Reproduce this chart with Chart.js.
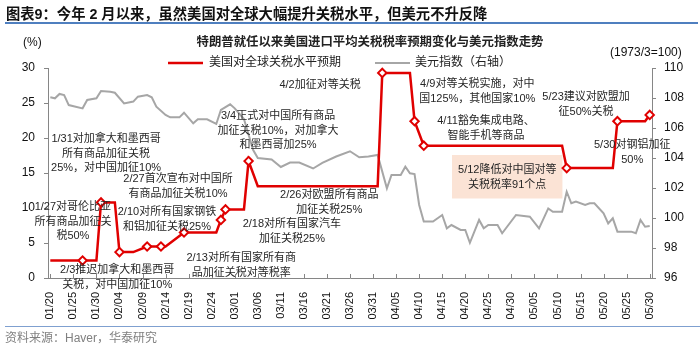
<!DOCTYPE html>
<html><head><meta charset="utf-8">
<script src="https://cdn.jsdelivr.net/npm/chart.js@4"></script>
<style>
html,body{margin:0;padding:0;background:#fff;width:700px;height:349px;overflow:hidden;position:relative;font-family:"Liberation Sans","Noto Sans CJK SC",sans-serif;}
#c{position:absolute;left:0;top:0;}
.t{position:absolute;white-space:nowrap;line-height:1;}
#title{left:6px;top:7px;font-size:14.3px;font-weight:bold;color:#111;}
#tline{position:absolute;left:5px;top:22px;width:693px;height:2px;background:#4f7fbf;}
#sub{left:370px;top:36px;transform:translateX(-50%);font-size:12.4px;font-weight:bold;color:#222;}
#pct{left:23px;top:36px;font-size:12px;color:#111;}
#idx{left:610px;top:46px;font-size:12px;color:#111;}
#bline{position:absolute;left:5px;top:326px;width:695px;height:1px;background:#7fa0d0;}
#src{left:5px;top:332px;font-size:12px;color:#808080;}
</style></head>
<body>
<canvas id="c" width="700" height="349"></canvas>
<div class="t" id="title">图表9：今年 2 月以来，虽然美国对全球大幅提升关税水平，但美元不升反降</div>
<div id="tline"></div>
<div class="t" id="sub">特朗普就任以来美国进口平均关税税率预期变化与美元指数走势</div>
<div class="t" id="pct">(%)</div>
<div class="t" id="idx">(1973/3=100)</div>
<div id="bline"></div>
<div class="t" id="src">资料来源：Haver，华泰研究</div>
<script>
const dates = [
'01/20','01/21','01/22','01/23','01/24','01/25','01/26','01/27','01/28','01/29','01/30','01/31',
'02/01','02/02','02/03','02/04','02/05','02/06','02/07','02/08','02/09','02/10','02/11','02/12','02/13','02/14','02/15','02/16','02/17','02/18','02/19','02/20','02/21','02/22','02/23','02/24','02/25','02/26','02/27','02/28',
'03/01','03/02','03/03','03/04','03/05','03/06','03/07','03/08','03/09','03/10','03/11','03/12','03/13','03/14','03/15','03/16','03/17','03/18','03/19','03/20','03/21','03/22','03/23','03/24','03/25','03/26','03/27','03/28','03/29','03/30','03/31',
'04/01','04/02','04/03','04/04','04/05','04/06','04/07','04/08','04/09','04/10','04/11','04/12','04/13','04/14','04/15','04/16','04/17','04/18','04/19','04/20','04/21','04/22','04/23','04/24','04/25','04/26','04/27','04/28','04/29','04/30',
'05/01','05/02','05/03','05/04','05/05','05/06','05/07','05/08','05/09','05/10','05/11','05/12','05/13','05/14','05/15','05/16','05/17','05/18','05/19','05/20','05/21','05/22','05/23','05/24','05/25','05/26','05/27','05/28','05/29','05/30'
];

// 美国对全球关税水平预期 (%), left axis
const tariff = [
2.5,2.5,2.5,2.5,2.5,2.5,2.5,2.5,2.5,2.5,2.5,
10.8,10.8,10.8,10.8,
3.7,3.7,3.7,3.7,
null,null,
4.5,4.5,4.5,4.5,4.5,
null,null,null,
6.5,6.5,6.5,6.5,6.5,6.5,6.5,6.5,
8.3,
9.8,9.8,9.8,9.8,9.8,
16.7,
null,
13.1,13.1,13.1,13.1,13.1,13.1,13.1,13.1,13.1,13.1,13.1,13.1,13.1,13.1,13.1,13.1,13.1,13.1,13.1,13.1,13.1,13.1,13.1,13.1,13.1,13.1,13.1,
29.3,29.3,29.3,29.3,29.3,29.3,29.3,
22.4,
null,
18.9,18.9,18.9,18.9,18.9,18.9,18.9,18.9,18.9,18.9,18.9,18.9,18.9,18.9,18.9,18.9,18.9,18.9,18.9,18.9,18.9,18.9,18.9,18.9,18.9,18.9,18.9,18.9,18.9,18.9,18.9,
15.7,15.7,15.7,15.7,15.7,15.7,15.7,15.7,15.7,15.7,15.7,
22.4,22.4,22.4,22.4,22.4,22.4,22.4,
23.3
];

// 美元指数 (1973/3=100), right axis
const dxy = [
108.05,107.98,108.27,108.2,107.53,null,null,107.31,107.87,null,
107.98,108.47,null,108.42,108.35,null,107.64,null,107.76,108.09,
null,108.2,108.05,107.42,null,106.87,106.71,null,106.71,107.02,
null,106.31,106.58,null,106.58,null,106.27,107.2,null,107.58,
107.31,null,106.6,null,104.53,104.0,null,null,103.9,null,
103.4,null,103.7,null,103.7,null,null,103.3,null,103.67,
null,null,104.1,null,null,104.45,null,104.05,null,104.1,
null,104.2,null,101.98,102.87,null,102.87,103.42,102.98,102.93,
100.87,99.76,null,99.76,null,100.2,99.31,99.53,null,99.2,
99.2,98.35,null,99.87,99.31,99.53,null,99.53,98.98,null,
null,100.2,null,null,100.09,null,99.31,null,100.64,100.42,
null,100.42,101.75,100.98,101.09,null,100.87,100.98,100.98,null,
100.31,99.64,99.98,99.09,null,null,99.09,98.98,99.87,99.42,
99.47
];

const markerDates = ['01/27','01/31','02/04','02/10','02/13','02/18','02/26','02/27','03/04','04/02','04/09','04/11','05/12','05/23','05/30'];

const seriesNames = ['美国对全球关税水平预期','美元指数（右轴）'];

const notes = [
 {idx:12.1, val:19.86, lines:['1/31对加拿大和墨西哥','所有商品加征关税','25%，对中国加征10%']},
 {idx:27.7, val:14.14, lines:['2/27首次宣布对中国所','有商品加征关税10%']},
 {idx:4.9, val:10.14, lines:['1/27对哥伦比亚','所有商品加征关','税50%']},
 {idx:25.3, val:9.43, lines:['2/10对所有国家钢铁','和铝加征关税25%']},
 {idx:14.5, val:1.14, lines:['2/3推迟加拿大和墨西哥','关税，对中国加征10%']},
 {idx:41.4, val:2.86, lines:['2/13对所有国家所有商','品加征关税对等税率']},
 {idx:52.4, val:7.71, lines:['2/18对所有国家汽车','加征关税25%']},
 {idx:60.5, val:11.86, lines:['2/26对欧盟所有商品','加征关税25%']},
 {idx:49.4, val:23.14, lines:['3/4正式对中国所有商品','加征关税10%，对加拿大','和墨西哥加25%']},
 {idx:58.5, val:27.57, lines:['4/2加征对等关税']},
 {idx:92.6, val:27.71, lines:['4/9对等关税实施，对中','国125%，其他国家10%']},
 {idx:94.5, val:22.43, lines:['4/11豁免集成电路、','智能手机等商品']},
 {idx:99.1, val:15.43, lines:['5/12降低对中国对等','关税税率91个点'], box:true},
 {idx:116.2, val:25.86, lines:['5/23建议对欧盟加','征50%关税']},
 {idx:126.2, val:19.0, lines:['5/30对钢铝加征','50%']}
];

const RED = '#e00000', GRAY = '#a6a6a6', AXIS = '#868686';
const NOTE_FONT = '11px "Liberation Sans","Noto Sans CJK SC"';
const LH = 14.5;

const radii = dates.map(d => markerDates.includes(d) ? 4.2 : 0);

const extras = {
  id: 'extras',
  beforeDatasetsDraw(chart) {
    const ctx = chart.ctx, xs = chart.scales.x, ys = chart.scales.y;
    ctx.save();
    ctx.font = NOTE_FONT;
    notes.filter(n => n.box).forEach(n => {
      const cx = xs.getPixelForValue(n.idx), cy = ys.getPixelForValue(n.val);
      const w = Math.max(...n.lines.map(l => ctx.measureText(l).width));
      ctx.fillStyle = '#fbe3d5';
      ctx.fillRect(cx - w/2 - 6, cy - 15, w + 12, (n.lines.length - 1) * LH + 29);
    });
    ctx.restore();
  },
  afterDraw(chart) {
    const ctx = chart.ctx, xs = chart.scales.x, ys = chart.scales.y;
    const area = chart.chartArea;
    ctx.save();
    ctx.strokeStyle = AXIS; ctx.lineWidth = 1;
    dates.forEach((d, i) => {
      if (i % 5 === 0) {
        const x = Math.round(xs.getPixelForValue(i)) + 0.5;
        ctx.beginPath(); ctx.moveTo(x, area.bottom); ctx.lineTo(x, area.bottom - 4); ctx.stroke();
      }
    });
    ctx.font = NOTE_FONT;
    ctx.fillStyle = '#262626';
    ctx.textAlign = 'center'; ctx.textBaseline = 'middle';
    notes.forEach(n => {
      const cx = xs.getPixelForValue(n.idx), cy = ys.getPixelForValue(n.val);
      n.lines.forEach((l, k) => ctx.fillText(l, cx, cy + k * LH));
    });
    ctx.font = '12px "Liberation Sans","Noto Sans CJK SC"';
    ctx.textAlign = 'left';
    ctx.fillStyle = '#222';
    ctx.lineWidth = 2.5; ctx.strokeStyle = RED;
    ctx.beginPath(); ctx.moveTo(168, 63); ctx.lineTo(203, 63); ctx.stroke();
    ctx.fillText(seriesNames[0], 209, 63);
    ctx.lineWidth = 2; ctx.strokeStyle = GRAY;
    ctx.beginPath(); ctx.moveTo(375, 63); ctx.lineTo(410, 63); ctx.stroke();
    ctx.fillText(seriesNames[1], 415, 63);
    ctx.restore();
  }
};

new Chart(document.getElementById('c'), {
  type: 'line',
  data: {
    labels: dates,
    datasets: [
      {label: seriesNames[0], data: tariff, yAxisID: 'y', borderColor: RED, borderWidth: 2.5,
       pointRadius: radii, pointHoverRadius: radii, pointStyle: 'rectRot', pointBackgroundColor: '#fff',
       pointBorderColor: RED, pointBorderWidth: 2, spanGaps: true, tension: 0, order: 0, clip: false},
      {label: seriesNames[1], data: dxy, yAxisID: 'y1', borderColor: GRAY, borderWidth: 2,
       pointRadius: 0, spanGaps: true, tension: 0, order: 1}
    ]
  },
  options: {
    responsive: false, animation: false, devicePixelRatio: 1,
    layout: {padding: {top: 68, left: 0, right: 0, bottom: 0}},
    plugins: {legend: {display: false}, tooltip: {enabled: false}, title: {display: false}},
    scales: {
      x: {
        type: 'category', offset: true,
        grid: {display: false},
        border: {display: true, color: AXIS, width: 1},
        ticks: {autoSkip: false, maxRotation: 90, minRotation: 90, padding: 6, color: '#111',
          font: {size: 11, family: '"Liberation Sans"'},
          callback: (v, i) => i % 5 === 0 ? dates[i] : ''},
        afterFit: s => { s.height = 71; }
      },
      y: {
        position: 'left', min: 0, max: 30,
        grid: {display: true, drawOnChartArea: false, drawTicks: true, tickLength: 4, color: AXIS},
        border: {display: true, color: AXIS, width: 1},
        ticks: {stepSize: 5, padding: 9, color: '#111', font: {size: 12, family: '"Liberation Sans"'}},
        afterFit: s => { s.width = 48; }
      },
      y1: {
        position: 'right', min: 96, max: 110,
        grid: {display: true, drawOnChartArea: false, drawTicks: true, tickLength: 4, color: AXIS},
        border: {display: true, color: AXIS, width: 1},
        ticks: {stepSize: 2, padding: 8, color: '#111', font: {size: 12, family: '"Liberation Sans"'}},
        afterFit: s => { s.width = 48; }
      }
    }
  },
  plugins: [extras]
});
</script>
</body></html>
